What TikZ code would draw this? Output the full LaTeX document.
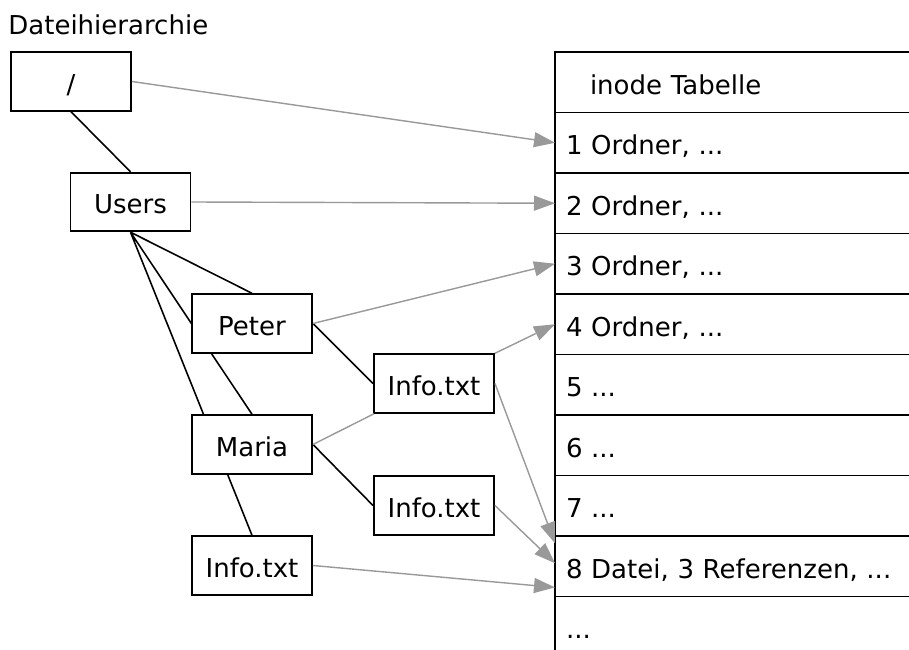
\documentclass[tikz,border=0pt]{standalone}
\usepackage{fontspec}
\setmainfont{DejaVu Sans}
\usepackage{tikz}
\usetikzlibrary{positioning,calc,arrows.meta,backgrounds}
\definecolor{linkgray}{gray}{0.6}

\begin{document}
\begin{tikzpicture}[font=\fontsize{14.8}{17}\selectfont,
  file/.style={draw,fill=white,line width=1.1pt,inner sep=0pt,
    minimum width=2.4cm,minimum height=1.17cm,text height=0.48cm,text depth=0cm},
  row/.style={draw,line width=1.1pt,outer sep=0pt,inner xsep=0.22cm,inner ysep=0pt,
    text width=6.9cm,align=left,minimum height=1.21cm,text height=0.48cm,text depth=0cm},
  head/.style={row,inner xsep=0.7cm,text width=5.94cm},
  tree/.style={line width=0.9pt},
  link/.style={draw=linkgray,line width=0.8pt,-{Triangle[length=0.42cm,width=0.3cm]}}]
\useasboundingbox (0,0) rectangle (18.18,-13);
\node[anchor=base west,inner sep=0pt] (TITLE) at (0.16,-0.7) {Dateihierarchie};

% file tree
\draw (1.42,-1.63) node[file](ROOT){/};
\draw (2.61,-4.04) node[file](USERS){Users};
\draw (5.04,-6.47) node[file](PETER){Peter};
\draw (8.68,-7.67) node[file](INFO1){Info.txt};
\draw (5.04,-8.89) node[file](MARIA){Maria};
\draw (8.68,-10.11) node[file](INFO2){Info.txt};
\draw (5.04,-11.31) node[file](INFO3){Info.txt};
\begin{pgfonlayer}{background}
\draw[tree] (ROOT.south) -- (USERS.north)
  (USERS.south) -- (PETER.north)
  (USERS.south) -- (MARIA.north)
  (USERS.south) -- (INFO3.north)
  (PETER.east) -- (INFO1.west)
  (MARIA.east) -- (INFO2.west);
\end{pgfonlayer}

% inode table
\draw (11.1,-1.04) node[head,anchor=north west](HEAD){inode Tabelle};
\node[row,below=0pt of HEAD](ROW1){1 Ordner, ...};
\node[row,below=0pt of ROW1](ROW2){2 Ordner, ...};
\node[row,below=0pt of ROW2](ROW3){3 Ordner, ...};
\node[row,below=0pt of ROW3](ROW4){4 Ordner, ...};
\node[row,below=0pt of ROW4](ROW5){5 ...};
\node[row,below=0pt of ROW5](ROW6){6 ...};
\node[row,below=0pt of ROW6](ROW7){7 ...};
\node[row,below=0pt of ROW7](ROW8){8 Datei, 3 Referenzen, ...};
\node[row,below=0pt of ROW8](MORE){...};

% inode links
\draw[link] (ROOT.east) -- (ROW1.west);
\draw[link] (USERS.east) -- (ROW2.west);
\draw[link] (PETER.east) -- (ROW3.west);
\draw[link] (INFO1.north east) -- (ROW4.west);
\draw[link] (INFO1.east) -- ($(ROW8.north west)!.12!(ROW8.south west)$);
\draw[link] (INFO2.east) -- ($(ROW8.north west)!.45!(ROW8.south west)$);
\draw[link] (INFO3.east) -- ($(ROW8.north west)!.85!(ROW8.south west)$);
\draw[draw=linkgray,line width=0.8pt] (MARIA.east) -- (INFO1);
\end{tikzpicture}
\end{document}
